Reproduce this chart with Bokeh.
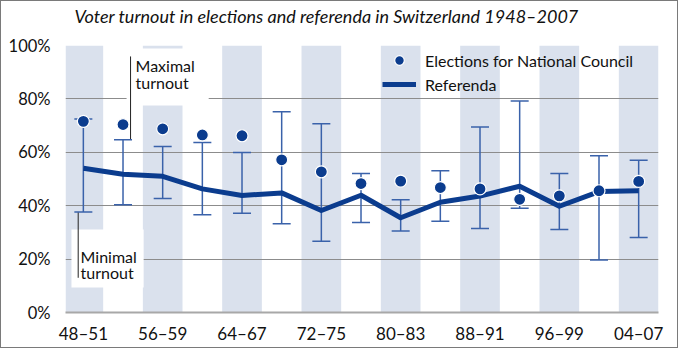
from bokeh.plotting import figure
from bokeh.models import (Range1d, FixedTicker, PrintfTickFormatter, CustomJSTickFormatter,
                          Legend, LegendItem, ColumnDataSource, Title)
from bokeh.core.properties import value
from bokeh.embed import file_html
from bokeh.resources import INLINE

periods = ["48–51", "52–55", "56–59", "60–63", "64–67", "68–71", "72–75", "76–79",
           "80–83", "84–87", "88–91", "92–95", "96–99", "00–03", "04–07"]
elections = [71.6, 70.4, 68.8, 66.5, 66.2, 57.2, 52.7, 48.3, 49.2, 46.8, 46.3, 42.4, 43.7, 45.6, 49.1]
ref_avg = [54.0, 51.8, 51.0, 46.3, 43.8, 44.8, 38.2, 43.9, 35.5, 41.3, 43.6, 47.3, 39.8, 45.3, 45.6]
ref_max = [72.5, 64.7, 62.2, 63.7, 59.9, 75.2, 70.7, 52.1, 42.2, 53.1, 69.5, 79.2, 52.1, 58.7, 57.0]
ref_min = [37.6, 40.4, 42.7, 36.6, 37.2, 33.2, 26.7, 33.7, 30.5, 34.2, 31.5, 39.0, 31.1, 19.7, 28.1]
y_ticks = [0, 20, 40, 60, 80, 100]
title_text = "Voter turnout in elections and referenda in Switzerland 1948–2007"

FONT = "Lato"
DOT = "#0b3c8e"
BAR = "#3a62aa"
BAND = "#dae1ed"
GRID = "#8c8c8c"

n = len(periods)
xc = [i + 0.5 for i in range(n)]
src = ColumnDataSource(dict(x=xc, el=elections, avg=ref_avg, hi=ref_max, lo=ref_min, lab=periods))
band_x = [xc[i] for i in range(0, n, 2)]

p = figure(width=678, height=348, output_backend="svg", toolbar_location=None,
           x_range=Range1d(0.05, n), y_range=Range1d(0, 100),
           min_border_left=64, min_border_right=21, min_border_top=44, min_border_bottom=37)
p.styles = {"border": "1px solid #7a7a7a"}
p.outline_line_color = None
p.background_fill_color = "white"
p.border_fill_color = "white"

# spacer between title and frame
p.add_layout(Title(text=" ", text_font_size="15px", standoff=0), "above")

# title
p.title.text = title_text
p.title.text_font = FONT
p.title.text_font_style = "italic"
p.title.text_font_size = "18px"
p.title.text_color = "#111111"
p.title.align = "left"
p.title.offset = 9
p.title.standoff = 0

# bands
bands = p.vbar(x=band_x, width=1, top=100, bottom=0, fill_color=BAND, line_color=None)
bands.level = "image"

# grid
p.xgrid.grid_line_color = None
p.ygrid.ticker = FixedTicker(ticks=y_ticks)
p.ygrid.grid_line_color = GRID
p.ygrid.grid_line_width = 1

# axes
p.yaxis.ticker = FixedTicker(ticks=y_ticks)
p.yaxis.formatter = PrintfTickFormatter(format="%d%%")
p.yaxis.axis_line_color = None
p.yaxis.major_tick_line_color = None
p.yaxis.minor_tick_line_color = None
p.yaxis.major_label_standoff = 9
p.yaxis.major_label_text_font = FONT
p.yaxis.major_label_text_font_size = "16.5px"
p.yaxis.major_label_text_color = "#111111"

p.xaxis.ticker = FixedTicker(ticks=band_x)
p.xaxis.formatter = CustomJSTickFormatter(args=dict(labels=periods),
                                          code="return labels[Math.floor(tick)];")
p.xaxis.axis_line_color = "#a8a8a8"
p.xaxis.axis_line_width = 2
p.xaxis.major_tick_line_color = None
p.xaxis.minor_tick_line_color = None
p.xaxis.major_label_standoff = 4
p.xaxis.major_label_text_font = FONT
p.xaxis.major_label_text_font_size = "17px"
p.xaxis.major_label_text_color = "#111111"

# annotation white boxes
p.quad(left=[1.59, 0.20], right=[3.66, 2.02], top=[98.9, 31.1], bottom=[77.5, 9.4],
       fill_color="white", line_color=None)
# leader lines
p.segment(x0=[1.69, 0.37], y0=[95.9, ref_min[0]], x1=[1.69, 0.37], y1=[ref_max[1], 13.0],
          line_color="#222222", line_width=1)
p.text(x=[1.815, 1.815, 0.43, 0.43], y=[92.5, 86.3, 21.0, 15.1],
       text=["Maximal", "turnout", "Minimal", "turnout"],
       text_font=value(FONT), text_font_size="16px", text_color="#111111",
       text_baseline="middle", text_align="left")

# error bars
p.segment(x0="x", y0="lo", x1="x", y1="hi", source=src, line_color=BAR, line_width=1.5)
p.scatter(x="x", y="hi", source=src, marker="dash", size=18, line_color=BAR, line_width=1.5)
p.scatter(x="x", y="lo", source=src, marker="dash", size=18, line_color=BAR, line_width=1.5)

# referenda line
line = p.line(x="x", y="avg", source=src, line_color=DOT, line_width=5, line_join="round")
# election dots
dots = p.scatter(x="x", y="el", source=src, size=12, fill_color=DOT, line_color="white", line_width=1.2)

legend = Legend(items=[LegendItem(label="Elections for National Council", renderers=[dots]),
                       LegendItem(label="Referenda", renderers=[line])],
                location=(317, 216), orientation="vertical",
                background_fill_alpha=0, border_line_color=None,
                padding=0, margin=0, spacing=0,
                glyph_width=34, glyph_height=24, label_height=22, label_standoff=9,
                label_text_font=FONT, label_text_font_size="16px", label_text_color="#111111")
p.add_layout(legend)

open("out.html", "w").write(file_html(p, INLINE))
